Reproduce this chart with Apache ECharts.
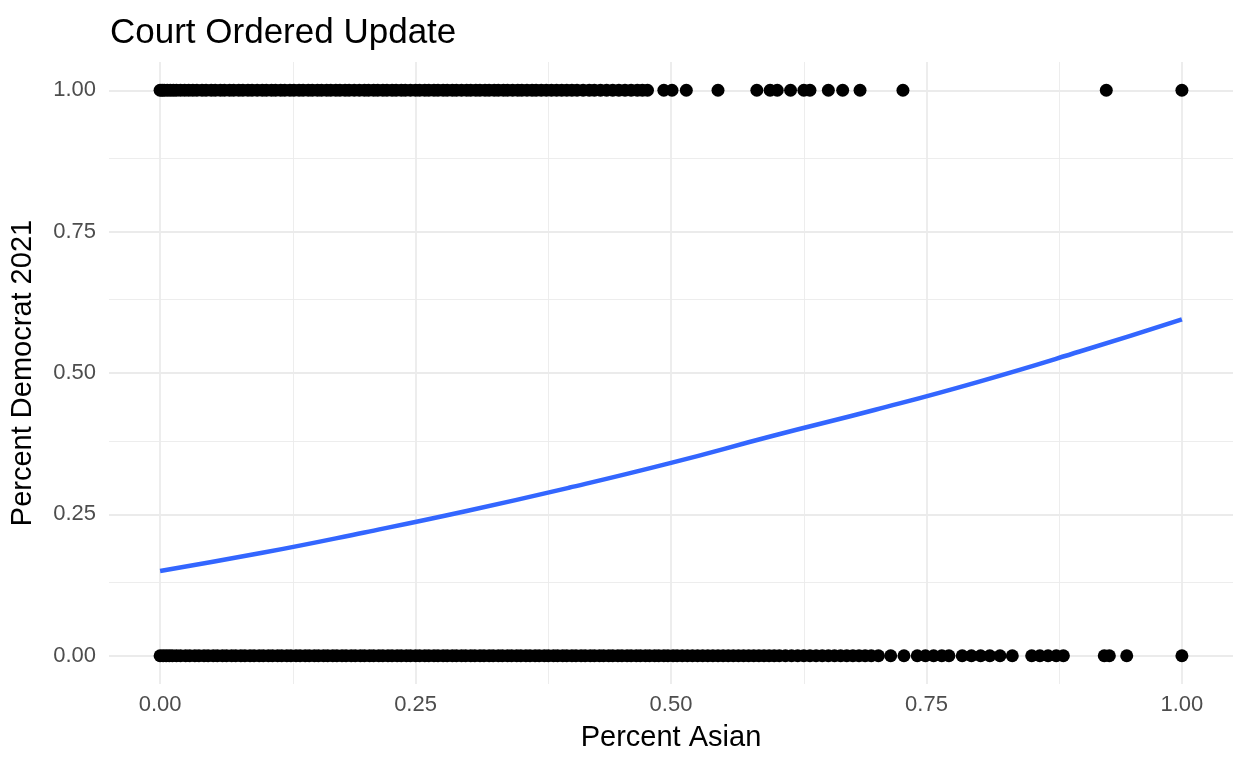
<!DOCTYPE html>
<html>
	<head>
		<meta charset="utf-8">
		<title>Court Ordered Update</title>
		<script src="https://cdn.jsdelivr.net/npm/echarts@6/dist/echarts.min.js"></script>
	</head>
	<body style="margin: 0; overflow: hidden; background: #fff;">
		<div id="main" style="width: 1248px; height: 768px;"></div>
		<script type="text/javascript">
			// precincts that went Democrat (y = 1), x = percent Asian
			var demDense = [0, 0.002, 0.004, 0.007, 0.01, 0.013, 0.016, 0.02, 0.024, 0.028, 0.032, 0.036, 0.041, 0.045, 0.05, 0.054, 0.059, 0.063, 0.068, 0.072, 0.077, 0.081, 0.086, 0.09, 0.095, 0.1, 0.104, 0.109, 0.113, 0.118, 0.122, 0.127, 0.131, 0.136, 0.14, 0.145, 0.149, 0.154, 0.158, 0.163, 0.167, 0.172, 0.176, 0.181, 0.185, 0.19, 0.195, 0.2, 0.204, 0.209, 0.213, 0.218, 0.222, 0.227, 0.231, 0.236, 0.24, 0.245, 0.25, 0.254, 0.259, 0.263, 0.268, 0.272, 0.277, 0.281, 0.286, 0.29, 0.295, 0.3, 0.304, 0.309, 0.313, 0.318, 0.322, 0.327, 0.331, 0.336, 0.34, 0.345, 0.35, 0.354, 0.359, 0.364, 0.368, 0.373, 0.378, 0.383, 0.388, 0.393, 0.398, 0.403, 0.408, 0.414, 0.42, 0.425, 0.431, 0.437, 0.443, 0.449, 0.455, 0.461, 0.467, 0.472, 0.477];
			var demSparse = [0.493, 0.501, 0.515, 0.546, 0.584, 0.597, 0.604, 0.617, 0.63, 0.636, 0.654, 0.668, 0.685, 0.727, 0.926, 1.0];

			// precincts that did not (y = 0)
			var repDense = [0, 0.003, 0.006, 0.009, 0.012, 0.016, 0.02, 0.025, 0.029, 0.034, 0.038, 0.043, 0.047, 0.052, 0.056, 0.061, 0.065, 0.07, 0.074, 0.079, 0.083, 0.088, 0.092, 0.097, 0.101, 0.106, 0.11, 0.115, 0.119, 0.124, 0.128, 0.133, 0.137, 0.142, 0.146, 0.151, 0.155, 0.16, 0.164, 0.169, 0.173, 0.178, 0.182, 0.187, 0.191, 0.196, 0.2, 0.205, 0.209, 0.214, 0.218, 0.223, 0.227, 0.232, 0.236, 0.241, 0.245, 0.25, 0.254, 0.259, 0.263, 0.268, 0.272, 0.277, 0.281, 0.286, 0.29, 0.295, 0.299, 0.304, 0.308, 0.313, 0.317, 0.322, 0.326, 0.331, 0.335, 0.34, 0.344, 0.349, 0.353, 0.358, 0.362, 0.367, 0.371, 0.376, 0.38, 0.385, 0.389, 0.394, 0.398, 0.403, 0.407, 0.412, 0.416, 0.421, 0.425, 0.43, 0.434, 0.439, 0.443, 0.448, 0.452, 0.457, 0.461, 0.466, 0.47, 0.475, 0.479, 0.484, 0.488, 0.493, 0.497, 0.502, 0.506, 0.511, 0.516, 0.521, 0.526, 0.531, 0.536, 0.541, 0.546, 0.551, 0.556, 0.561, 0.566, 0.571, 0.576, 0.581, 0.586, 0.591, 0.596, 0.601, 0.606, 0.612, 0.618, 0.624, 0.63, 0.636, 0.642, 0.648, 0.654, 0.66, 0.666, 0.672, 0.678, 0.684, 0.69, 0.696, 0.703];
			var repSparse = [0.715, 0.728, 0.741, 0.749, 0.757, 0.765, 0.772, 0.785, 0.794, 0.803, 0.812, 0.822, 0.834, 0.853, 0.861, 0.869, 0.877, 0.884, 0.924, 0.929, 0.946, 1.0];

			// fitted logistic curve
			var fitX = [0, 0.1, 0.2, 0.3, 0.4, 0.5, 0.6, 0.7, 0.8, 0.9, 1.0];
			var fitY = [0.150, 0.182, 0.218, 0.256, 0.297, 0.341, 0.389, 0.435, 0.484, 0.538, 0.595];

			var majorTicks = [0, 0.25, 0.5, 0.75, 1];
			var minorTicks = [0.125, 0.375, 0.625, 0.875];

			var font = 'Liberation Sans, Arial, Helvetica, sans-serif';

			function pts(xs, y) {
				return xs.map(function (x) { return [x, y]; });
			}

			var gridMajor = majorTicks.map(function (v) { return { xAxis: v }; })
				.concat(majorTicks.map(function (v) { return { yAxis: v }; }));
			var gridMinor = minorTicks.map(function (v) { return { xAxis: v }; })
				.concat(minorTicks.map(function (v) { return { yAxis: v }; }));

			var myChart = echarts.init(document.getElementById('main'));

			var option = {
				animation: false,
				backgroundColor: '#ffffff',
				title: {
					text: 'Court Ordered Update',
					left: 105,
					top: 11,
					textStyle: { fontFamily: font, fontSize: 35, fontWeight: 'normal', color: '#000' }
				},
				grid: { left: 108, right: 15, top: 62, bottom: 84 },
				xAxis: {
					type: 'value',
					min: -0.05,
					max: 1.05,
					name: 'Percent Asian',
					nameLocation: 'middle',
					nameGap: 39,
					nameTextStyle: { fontFamily: font, fontSize: 29, color: '#000' },
					axisLine: { show: false },
					axisTick: { show: false },
					splitLine: { show: false },
					axisLabel: {
						customValues: majorTicks,
						margin: 10,
						fontFamily: font, fontSize: 22, color: '#4D4D4D',
						formatter: function (v) { return v.toFixed(2); }
					}
				},
				yAxis: {
					type: 'value',
					min: -0.05,
					max: 1.05,
					name: 'Percent Democrat 2021',
					nameLocation: 'middle',
					nameGap: 72,
					nameTextStyle: { fontFamily: font, fontSize: 29, color: '#000' },
					axisLine: { show: false },
					axisTick: { show: false },
					splitLine: { show: false },
					axisLabel: {
						customValues: majorTicks,
						margin: 13,
						fontFamily: font, fontSize: 22, color: '#4D4D4D',
						formatter: function (v) { return v.toFixed(2); }
					}
				},
				series: [
					{
						type: 'line',
						data: [],
						z: 0,
						markLine: {
							silent: true,
							z: 0,
							symbol: 'none',
							label: { show: false },
							lineStyle: { color: '#EBEBEB', width: 0.9, type: 'solid' },
							data: gridMinor
						}
					},
					{
						type: 'line',
						data: [],
						z: 0,
						markLine: {
							silent: true,
							z: 0,
							symbol: 'none',
							label: { show: false },
							lineStyle: { color: '#EBEBEB', width: 1.8, type: 'solid' },
							data: gridMajor
						}
					},
					{
						name: 'Democrat',
						type: 'scatter',
						z: 3,
						symbolSize: 13,
						itemStyle: { color: '#000', opacity: 1 },
						data: pts(demDense.concat(demSparse), 1)
					},
					{
						name: 'Not Democrat',
						type: 'scatter',
						z: 3,
						symbolSize: 13,
						itemStyle: { color: '#000', opacity: 1 },
						data: pts(repDense.concat(repSparse), 0)
					},
					{
						name: 'fit',
						type: 'line',
						z: 4,
						smooth: true,
						showSymbol: false,
						lineStyle: { color: '#3366FF', width: 4.5 },
						data: fitX.map(function (x, i) { return [x, fitY[i]]; })
					}
				]
			};
			myChart.setOption(option);
		</script>
	</body>
</html>
